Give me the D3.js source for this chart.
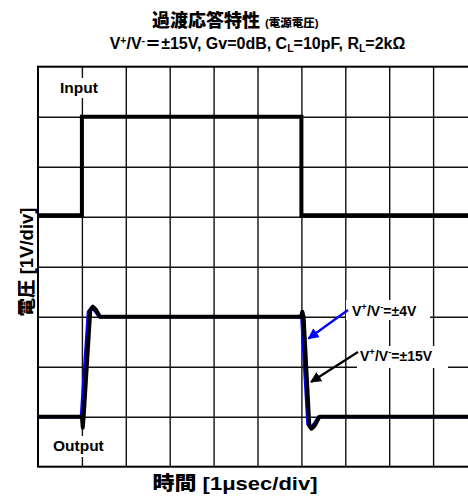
<!DOCTYPE html>
<html><head><meta charset="utf-8">
<script src="https://cdn.jsdelivr.net/npm/d3@7"></script>
<style>body{margin:0;background:#fff}svg{display:block}
text{font-family:"Liberation Sans",Arial,"Noto Sans CJK JP",sans-serif;font-weight:bold;fill:#000}
.cjk{font-family:"Liberation Sans","Noto Sans CJK JP",sans-serif;font-weight:900}</style>
</head><body>
<script>
// time in µs (1 µs/div), voltage in divisions (1 V/div) from bottom of screen
const inputT = [0, 1.0, 1.0, 6.0, 6.0, 10];
const inputV = [5.03, 5.03, 7.0, 7.0, 5.03, 5.03];
const out15T = [0, 1.0, 1.02, 1.04, 1.19, 1.25, 1.32, 1.41, 5.99, 6.02, 6.05, 6.18, 6.23, 6.30, 6.41, 10];
const out15V = [1.0, 1.0, 0.78, 1.0, 3.12, 3.2, 3.14, 3.0, 3.0, 3.1, 3.0, 0.82, 0.76, 0.82, 1.0, 1.0];
const out4T = [0, 0.99, 1.15, 1.22, 1.30, 1.40, 5.99, 6.01, 6.15, 6.21, 6.28, 6.40, 10];
const out4V = [1.0, 1.0, 3.1, 3.18, 3.12, 3.0, 3.0, 3.0, 0.85, 0.78, 0.84, 1.0, 1.0];
const xTicks = [1,2,3,4,5,6,7,8,9];
const yTicks = [1,2,3,4,5,6,7];

const W = 468, H = 496;
const svg = d3.select("body").append("svg").attr("width", W).attr("height", H);
const x = d3.scaleLinear().domain([0, 10]).range([38, 477]);
const y = d3.scaleLinear().domain([0, 8]).range([466.7, 66.7]);

// grid via axes
svg.append("g").attr("transform", `translate(0,${y(0)})`)
  .call(d3.axisBottom(x).tickValues(xTicks).tickSize(-(y(0) - y(8))).tickFormat(""))
  .call(g => g.select(".domain").remove())
  .call(g => g.selectAll("line").attr("stroke", "#111").attr("stroke-width", 1.4));
svg.append("g").attr("transform", `translate(${x(0)},0)`)
  .call(d3.axisLeft(y).tickValues(yTicks).tickSize(-(x(10) - x(0))).tickFormat(""))
  .call(g => g.select(".domain").remove())
  .call(g => g.selectAll("line").attr("stroke", "#111").attr("stroke-width", 1.4));

// frame
svg.append("rect").attr("x", x(0)).attr("y", y(8)).attr("width", x(10) - x(0)).attr("height", y(0) - y(8))
  .attr("fill", "none").attr("stroke", "#000").attr("stroke-width", 2);

function labelBox(xx, yy, w, h) {
  svg.append("rect").attr("x", xx).attr("y", yy).attr("width", w).attr("height", h).attr("fill", "#fff");
}
// white boxes behind labels
labelBox(56, 78, 46, 20);
labelBox(50, 436, 58, 21);
labelBox(346, 300, 84, 20);
labelBox(357, 346, 91, 22);

const line = d3.line().x(d => x(d[0])).y(d => y(d[1]));
const zip = (a, b) => a.map((t, i) => [t, b[i]]);

svg.append("path").attr("d", line(zip(inputT, inputV))).attr("fill", "none")
  .attr("stroke", "#000").attr("stroke-width", 4).attr("stroke-linejoin", "miter");
svg.append("path").attr("d", line(zip(out4T, out4V))).attr("fill", "none")
  .attr("stroke", "#0000ff").attr("stroke-width", 3.5).attr("stroke-linejoin", "round");
svg.append("path").attr("d", line(zip(out15T, out15V))).attr("fill", "none")
  .attr("stroke", "#000").attr("stroke-width", 4).attr("stroke-linejoin", "round");

// labels
svg.append("text").attr("x", 60).attr("y", 93).attr("font-size", 15.5).text("Input");
svg.append("text").attr("x", 53).attr("y", 451).attr("font-size", 15.5).text("Output");

function vLabel(xx, yy, val) {
  const t = svg.append("text").attr("x", xx).attr("y", yy).attr("font-size", 14);
  t.append("tspan").text("V");
  t.append("tspan").attr("font-size", 9.5).attr("dy", -6).text("+");
  t.append("tspan").attr("dy", 6).text("/V");
  t.append("tspan").attr("font-size", 9.5).attr("dy", -6).text("-");
  t.append("tspan").attr("dy", 6).text("=±" + val);
}
vLabel(352, 316, "4V");
vLabel(360, 361, "15V");

// arrows
const defs = svg.append("defs");
function marker(id, col) {
  defs.append("marker").attr("id", id).attr("viewBox", "0 0 10 10").attr("refX", 9).attr("refY", 5)
    .attr("markerWidth", 5).attr("markerHeight", 5).attr("markerUnits", "strokeWidth").attr("orient", "auto")
    .append("path").attr("d", "M0,0 L10,5 L0,10 z").attr("fill", col);
}
marker("ab", "#0000ff"); marker("ak", "#000");
svg.append("line").attr("x1", 348).attr("y1", 310).attr("x2", 308.5).attr("y2", 338.5)
  .attr("stroke", "#0000ff").attr("stroke-width", 2.2).attr("marker-end", "url(#ab)");
svg.append("line").attr("x1", 358).attr("y1", 352).attr("x2", 311).attr("y2", 382)
  .attr("stroke", "#000").attr("stroke-width", 2.2).attr("marker-end", "url(#ak)");

// titles
const t1 = svg.append("text").attr("x", 152).attr("y", 27).attr("class", "cjk").attr("font-size", 18);
t1.append("tspan").text("過渡応答特性 ");
t1.append("tspan").attr("font-size", 11.5).text("(電源電圧)");

const t2 = svg.append("text").attr("x", 257.5).attr("y", 49).attr("text-anchor", "middle").attr("font-size", 16);
t2.append("tspan").text("V");
t2.append("tspan").attr("font-size", 10.5).attr("dy", -5).text("+");
t2.append("tspan").attr("dy", 5).text("/V");
t2.append("tspan").attr("font-size", 10.5).attr("dy", -5).text("-");
t2.append("tspan").attr("dy", 5).attr("class", "cjk").attr("font-weight", "bold").text("＝");
t2.append("tspan").text("±15V, Gv=0dB, C");
t2.append("tspan").attr("font-size", 10.5).attr("dy", 3).text("L");
t2.append("tspan").attr("dy", -3).text("=10pF, R");
t2.append("tspan").attr("font-size", 10.5).attr("dy", 3).text("L");
t2.append("tspan").attr("dy", -3).text("=2kΩ");

svg.append("text").attr("class", "cjk").attr("x", 235).attr("y", 490).attr("text-anchor", "middle")
  .attr("font-size", 19).attr("textLength", 165).attr("lengthAdjust", "spacingAndGlyphs")
  .text("時間 [1μsec/div]");
svg.append("text").attr("class", "cjk").attr("transform", "translate(33,262) rotate(-90)")
  .attr("text-anchor", "middle").attr("font-size", 18.5).text("電圧 [1V/div]");
</script>
</body></html>
